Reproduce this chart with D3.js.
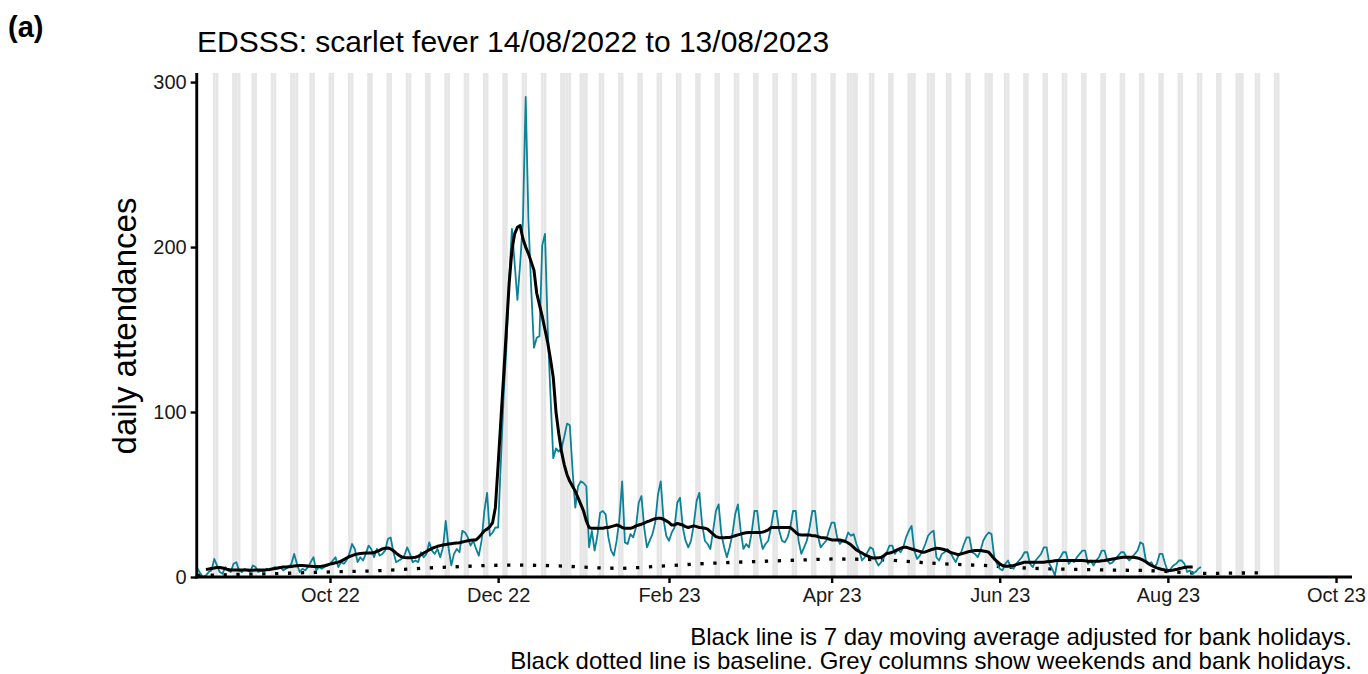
<!DOCTYPE html>
<html>
<head>
<meta charset="utf-8">
<script src="https://cdn.jsdelivr.net/npm/d3@7"></script>
<style>
  html, body { margin: 0; padding: 0; background: #fff; }
  svg text { font-family: "Liberation Sans", Arial, sans-serif; }
</style>
</head>
<body>
<script>
// ---------------- DATA ----------------
const startDate = "2022-08-14";           // first day of daily series
const chartTitle = "EDSSS: scarlet fever 14/08/2022 to 13/08/2023";
const panelLabel = "(a)";
const yLabel = "daily attendances";
const footnotes = [
  "Black line is 7 day moving average adjusted for bank holidays.",
  "Black dotted line is baseline. Grey columns show weekends and bank holidays."
];

// daily attendances (rows = Sun..Sat weeks)
const dailyCounts = [
  5, 2, 0, 1, 3, 4, 11,
  7, 3, 2, 6, 4, 3, 8,
  9, 4, 3, 5, 4, 3, 7,
  6, 3, 4, 3, 5, 4, 5,
  6, 5, 6, 4, 5, 6, 8,
  14, 8, 3, 5, 4, 6, 9,
  12, 4, 6, 5, 6, 7, 8,
  10, 12, 6, 9, 8, 10, 14,
  20, 17, 9, 12, 10, 14, 19,
  17, 12, 17, 13, 14, 16, 23,
  24, 15, 9, 10, 11, 13, 18,
  14, 9, 10, 9, 15, 12, 14,
  21, 16, 14, 17, 12, 18, 34,
  18, 7, 14, 17, 15, 28, 27,
  24, 19, 22, 17, 13, 22, 40,
  51, 25, 27, 30, 30, 70, 110,
  140, 180, 211, 190, 168, 190, 216,
  291, 216, 175, 139, 145, 146, 201,
  208, 150, 110, 72, 78, 76, 78,
  85, 93, 92, 65, 42, 55, 58,
  57, 55, 18, 28, 16, 25, 39,
  40, 38, 24, 16, 13, 22, 35,
  58, 21, 20, 26, 24, 30, 45,
  49, 30, 18, 22, 26, 33, 50,
  58, 35, 25, 22, 27, 30, 45,
  48, 30, 22, 18, 22, 32, 46,
  51, 32, 22, 20, 17, 28, 40,
  44, 26, 18, 12, 18, 26, 38,
  44, 28, 17, 20, 18, 27, 40,
  40, 25, 17, 20, 22, 30, 40,
  40, 28, 22, 21, 24, 30, 40,
  40, 22, 14, 18, 22, 30, 40,
  40, 25, 18, 20, 22, 28, 33,
  33, 24, 20, 22, 22, 27, 25,
  26, 20, 16, 10, 12, 15, 18,
  17, 10, 7, 9, 12, 15, 19,
  19, 14, 17, 15, 18, 24, 28,
  31, 16, 11, 13, 16, 20, 25,
  27, 28, 12, 10, 14, 15, 17,
  15, 12, 9, 13, 15, 20, 24,
  24, 15, 14, 12, 16, 22, 25,
  27, 26, 12, 8, 5, 4, 8,
  10, 6, 5, 8, 10, 12, 15,
  15, 8, 6, 10, 12, 14, 18,
  18, 8, 5, 1, 10, 12, 15,
  15, 8, 10, 9, 12, 14, 16,
  16, 8, 10, 7, 10, 12, 16,
  16, 10, 8, 9, 11, 13, 15,
  15, 12, 10, 12, 14, 16, 21,
  20, 10, 8, 9, 6, 8, 14,
  14, 8, 3, 5, 7, 8, 10,
  10, 8, 3, 4, 2, 3, 5,
  6
];

// 7 day moving average (bank-holiday adjusted), same days as dailyCounts
const movingAverage = [
  null, null, null, 4.5, 4.8, 5.2, 5.5,
  5.8, 5.8, 5.5, 5, 4.5, 4.2, 4.2,
  4.2, 4.3, 4.2, 4.2, 4.2, 4.1, 4.1,
  4.2, 4.2, 4.2, 4.3, 4.4, 4.6, 4.9,
  5.2, 5.5, 5.8, 6, 6, 6.2, 6.4,
  6.6, 6.8, 7, 7, 6.8, 6.6, 6.5,
  6.4, 6.4, 6.4, 6.5, 6.8, 7.3, 7.8,
  8.2, 8.6, 9, 9.6, 10.5, 11.5, 12.3,
  13, 13.6, 14, 14.3, 14.4, 14.5, 14.5,
  14.5, 14.8, 15.5, 16.2, 17, 17.5, 17.6,
  17, 16, 14.5, 13.2, 12.2, 11.8, 11.6,
  11.7, 11.8, 12, 12.5, 13.5, 14.5, 15.5,
  16.5, 17.3, 18, 18.6, 19, 19.4, 19.7,
  20, 20.2, 20.4, 20.6, 20.8, 21.2, 21.6,
  22, 22.3, 22.4, 22.5, 24, 26, 28,
  29, 30.5, 33, 42, 68, 95, 122,
  150, 178, 198, 208, 212, 213, 205,
  200, 196, 191, 186, 172, 165, 158,
  150, 142, 132, 121, 100, 87, 76,
  68, 62, 58, 55, 52, 48, 44,
  40, 34, 30, 29.5, 29.5, 29.5, 29.5,
  29.5, 30, 30, 30.5, 31, 31.5, 31,
  30, 29.5, 29.5, 29.5, 30, 31, 31.5,
  32, 32.7, 33.5, 34, 34.8, 35.3, 35.6,
  35.6, 35, 34, 33, 31.5, 31.5, 32.5,
  32, 31.5, 30.5, 30, 30.5, 31, 30.5,
  30, 29.8, 29.6, 29, 27.5, 26, 24.5,
  24, 23.8, 23.8, 24, 24, 24.5, 25,
  25.5, 26, 26.5, 26.8, 27, 27, 27,
  27, 27, 27.2, 27.8, 28.5, 30, 30,
  30, 30, 30, 30, 30, 30, 28.5,
  27, 25.7, 25.5, 25.5, 25.5, 25.5, 25,
  25, 24.5, 24, 23.8, 23.6, 23, 22.5,
  22.4, 22.4, 22.4, 22, 21.5, 20.6, 19.5,
  18, 16.4, 15.5, 14.5, 13.5, 12.8, 12,
  11.5, 11.5, 11.6, 12, 13, 14.2, 14.5,
  15, 15.8, 16.6, 17.3, 18, 18, 17.5,
  17, 16.5, 16, 15.5, 15, 15.2, 15.8,
  16.5, 17, 17.5, 17.3, 17, 16.5, 16,
  15, 14.5, 14, 13.5, 14, 14.5, 15,
  15.5, 15.8, 16, 16, 16, 15.8, 15.5,
  15, 13, 11, 9.5, 8, 7, 6.5,
  6.5, 6.8, 7, 7.5, 8, 8.5, 9,
  9, 9, 9, 9, 9, 9, 9,
  9.2, 9.4, 9.6, 9.8, 10, 10, 10,
  10, 10, 10, 10, 10, 10, 10,
  9.8, 9.6, 9.5, 9.5, 9.5, 9.6, 9.8,
  10, 10.3, 10.6, 10.9, 11.2, 11.5, 11.8,
  12, 12, 12, 12, 11.8, 11.5, 11,
  10.2, 9.2, 8, 7, 6.2, 5.5, 5,
  4.5, 4.2, 4, 4, 4.2, 4.5, 5,
  5.4, 5.8, 6, 6, 6, null, null,
  null
];

// baseline, one value per week starting 14/08/2022
const baselineStep = 7;
const baselineValues = [
  1, 1.2, 1.5, 1.8, 2, 2.4, 2.8, 3.1, 3.4, 3.6,
  4.2, 4.8, 5.5, 6, 6.5, 7, 7.2, 7.2, 7, 6.6,
  6, 5.4, 5.2, 5.8, 6.6, 7.3, 8, 8.5, 9, 9.4,
  9.8, 10.2, 10.6, 11, 10.8, 10.6, 10.2, 9.3, 8.4, 7.8,
  7.3, 6.9, 6, 5.4, 5, 4.7, 4.5, 4.3, 4.1, 4,
  3.5, 2.8, 2.2, 2.2, 2.4, 2.5
];

// grey columns: weekends plus these bank holidays, up to columnsEnd
const bankHolidays = [
  "2022-08-29", "2022-09-19", "2022-12-26", "2022-12-27", "2023-01-02",
  "2023-04-07", "2023-04-10", "2023-05-01", "2023-05-08", "2023-05-29", "2023-08-28"
];
const columnsEnd = "2023-09-10";

const xTickDates = ["2022-10-01", "2022-12-01", "2023-02-01", "2023-04-01", "2023-06-01", "2023-08-01", "2023-10-01"];
const xTickLabels = ["Oct 22", "Dec 22", "Feb 23", "Apr 23", "Jun 23", "Aug 23", "Oct 23"];
const yTicks = [0, 100, 200, 300];
const yTickLabels = ["0", "100", "200", "300"];

// ---------------- CHART ----------------
const W = 1368, H = 674;
const parse = d3.utcParse("%Y-%m-%d");
const DAY = 864e5;
const t0 = parse(startDate);
const dayDate = i => new Date(t0.getTime() + i * DAY);

const plot = { left: 197.7, right: 1352, top: 73, bottom: 577 };

const x = d3.scaleUtc()
  .domain([t0, new Date(t0.getTime() + 418.8 * DAY)])
  .range([plot.left, plot.right]);
const y = d3.scaleLinear().domain([0, 305.5]).range([plot.bottom, plot.top]);

const svg = d3.select("body").append("svg").attr("width", W).attr("height", H);

// grey columns
const bh = new Set(bankHolidays);
const endCol = parse(columnsEnd);
const colDays = d3.utcDay.range(t0, new Date(endCol.getTime() + DAY))
  .filter(d => d.getUTCDay() === 0 || d.getUTCDay() === 6 || bh.has(d3.utcFormat("%Y-%m-%d")(d)));
svg.append("g").selectAll("rect").data(colDays).join("rect")
  .attr("x", d => Math.max(plot.left, x(new Date(d.getTime() - DAY / 2))))
  .attr("width", d => x(new Date(d.getTime() + DAY / 2)) - Math.max(plot.left, x(new Date(d.getTime() - DAY / 2))))
  .attr("y", plot.top)
  .attr("height", plot.bottom - plot.top)
  .attr("fill", "#e6e6e6");

// baseline (dotted)
const baseData = baselineValues.map((v, i) => ({ date: dayDate(i * baselineStep), v }));
svg.append("path").datum(baseData)
  .attr("fill", "none").attr("stroke", "#000").attr("stroke-width", 3.3)
  .attr("stroke-dasharray", "3.3,9.6")
  .attr("d", d3.line().x(d => x(d.date)).y(d => y(d.v)));

// daily series
const daily = dailyCounts.map((v, i) => ({ date: dayDate(i), v }));
svg.append("path").datum(daily)
  .attr("fill", "none").attr("stroke", "#0a8298").attr("stroke-width", 1.8)
  .attr("stroke-linejoin", "round")
  .attr("d", d3.line().x(d => x(d.date)).y(d => y(d.v)));

// moving average
const ma = movingAverage.map((v, i) => ({ date: dayDate(i), v }));
svg.append("path").datum(ma)
  .attr("fill", "none").attr("stroke", "#000").attr("stroke-width", 3)
  .attr("stroke-linejoin", "round")
  .attr("d", d3.line().defined(d => d.v != null).x(d => x(d.date)).y(d => y(d.v)));

// axes
const xAxis = d3.axisBottom(x)
  .tickValues(xTickDates.map(parse))
  .tickFormat((d, i) => xTickLabels[i])
  .tickSize(6).tickPadding(5);
const gx = svg.append("g").attr("transform", `translate(0,${plot.bottom})`).call(xAxis);
gx.select(".domain").remove();
gx.selectAll(".tick line").attr("stroke", "#000").attr("stroke-width", 2.4);
gx.selectAll(".tick text").attr("fill", "#1a1a1a").style("font-size", "20px")
  .style("font-family", '"Liberation Sans", Arial, sans-serif');

const yAxis = d3.axisLeft(y)
  .tickValues(yTicks)
  .tickFormat((d, i) => yTickLabels[i])
  .tickSize(6).tickPadding(4);
const gy = svg.append("g").attr("transform", `translate(${plot.left - 1},0)`).call(yAxis);
gy.select(".domain").remove();
gy.selectAll(".tick line").attr("stroke", "#000").attr("stroke-width", 2.4);
gy.selectAll(".tick text").attr("fill", "#1a1a1a").style("font-size", "20px")
  .style("font-family", '"Liberation Sans", Arial, sans-serif');

svg.append("line").attr("x1", plot.left - 1).attr("x2", plot.left - 1)
  .attr("y1", plot.top).attr("y2", plot.bottom + 1.5)
  .attr("stroke", "#000").attr("stroke-width", 2.8);
svg.append("line").attr("x1", plot.left - 2.4).attr("x2", plot.right)
  .attr("y1", plot.bottom).attr("y2", plot.bottom)
  .attr("stroke", "#000").attr("stroke-width", 2.8);

// texts
svg.append("text").attr("x", 8).attr("y", 37).text(panelLabel)
  .style("font-size", "29px").style("font-weight", "bold").attr("fill", "#000");
svg.append("text").attr("x", 197).attr("y", 52).text(chartTitle)
  .style("font-size", "30px").attr("fill", "#000");
svg.append("text")
  .attr("transform", `translate(135.5,326) rotate(-90)`)
  .attr("text-anchor", "middle").text(yLabel)
  .style("font-size", "33px").attr("fill", "#000");
footnotes.forEach((t, i) => {
  svg.append("text").attr("x", 1352).attr("y", 644.5 + i * 24.5)
    .attr("text-anchor", "end").text(t)
    .style("font-size", "24px").attr("fill", "#000");
});
</script>
</body>
</html>
